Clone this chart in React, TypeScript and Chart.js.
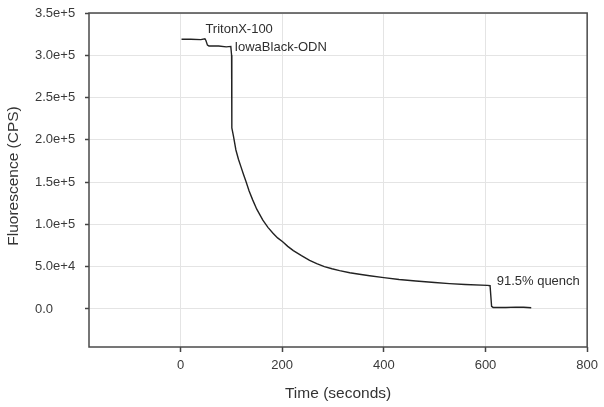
import React, { useEffect, useRef } from "react";
import { Chart, registerables } from "chart.js";

Chart.register(...registerables);

// Time (s) and fluorescence (CPS)
const timeSeconds = [
  2, 20, 40, 48, 50, 53, 56, 75, 90, 99, 100.5, 101, 104, 109, 114, 119, 124, 129, 135, 142, 150,
  162, 172, 182, 191, 201, 211, 222, 238, 254, 268, 283, 298, 313, 333, 352, 372, 400, 430, 463,
  500, 529, 560, 604, 609, 612, 615, 640, 660, 675, 690,
];
const fluorescenceCPS = [
  319000, 319000, 318500, 319500, 317500, 312000, 311000, 311000, 310000, 310500, 300000, 214000,
  205000, 188000, 177000, 168000, 159000, 150500, 139500, 129000, 118000, 105000, 96500, 89500,
  84000, 79500, 74000, 69000, 63000, 57500, 53500, 50000, 47500, 45300, 42800, 41000, 39300,
  37000, 34800, 33000, 31200, 30000, 29000, 27900, 27500, 3000, 1800, 1800, 2200, 2000, 1500,
];

const xTicks = [0, 200, 400, 600, 800];
const yTicks = [0, 50000, 100000, 150000, 200000, 250000, 300000, 350000];
const yTickLabels = ["0.0", "5.0e+4", "1.0e+5", "1.5e+5", "2.0e+5", "2.5e+5", "3.0e+5", "3.5e+5"];

const annotationTexts = ["TritonX-100", "IowaBlack-ODN", "91.5% quench"];
const annotationX = [49, 106, 622];
const annotationY = [331000, 309000, 32600];

const xTitle = "Time (seconds)";
const yTitle = "Fluorescence (CPS)";

const FONT = "Arial, 'Liberation Sans', sans-serif";

export default function App() {
  const ref = useRef<HTMLCanvasElement | null>(null);

  useEffect(() => {
    document.body.style.margin = "0";
    const canvas = ref.current;
    if (!canvas) return;

    const framePlugin = {
      id: "frameAndText",
      afterDraw(chart: any) {
        const { ctx, chartArea } = chart;
        const xs = chart.scales.x;
        const ys = chart.scales.y;
        ctx.save();
        ctx.strokeStyle = "#4a4a4a";
        ctx.lineWidth = 1.5;
        ctx.strokeRect(chartArea.left, chartArea.top, chartArea.right - chartArea.left, chartArea.bottom - chartArea.top);
        ctx.fillStyle = "#2e2e2e";
        ctx.font = `13px ${FONT}`;
        ctx.textAlign = "left";
        ctx.textBaseline = "middle";
        annotationTexts.forEach((t, i) => {
          ctx.fillText(t, xs.getPixelForValue(annotationX[i]), ys.getPixelForValue(annotationY[i]));
        });
        ctx.font = `15.5px ${FONT}`;
        ctx.fillStyle = "#333";
        ctx.translate(14, (chartArea.top + chartArea.bottom) / 2 - 4);
        ctx.rotate(-Math.PI / 2);
        ctx.textAlign = "center";
        ctx.fillText(yTitle, 0, 0);
        ctx.restore();
      },
    };

    const chart = new Chart(canvas, {
      type: "line",
      data: {
        datasets: [
          {
            data: timeSeconds.map((t, i) => ({ x: t, y: fluorescenceCPS[i] })),
            borderColor: "#222",
            borderWidth: 1.4,
            pointRadius: 0,
            tension: 0,
            fill: false,
          },
        ],
      },
      options: {
        responsive: false,
        animation: false,
        devicePixelRatio: 1,
        layout: { padding: { left: 35, top: 13, right: 16, bottom: 0 } },
        plugins: { legend: { display: false }, tooltip: { enabled: false } },
        scales: {
          x: {
            type: "linear",
            min: -180,
            max: 800,
            afterBuildTicks: (s: any) => {
              s.ticks = xTicks.map((v) => ({ value: v }));
            },
            afterFit: (s: any) => {
              s.height = 60;
            },
            grid: { color: "#e4e4e4", lineWidth: 1, tickColor: "#444", tickLength: 5, tickWidth: 1.5 },
            border: { display: false },
            ticks: {
              color: "#3a3a3a",
              font: { family: FONT, size: 13 },
              padding: 6,
              maxRotation: 0,
              callback: (v: any) => String(v),
            },
            title: {
              display: true,
              text: xTitle,
              color: "#333",
              font: { family: FONT, size: 15.5 },
              padding: { top: 0, bottom: 4 },
            },
          },
          y: {
            type: "linear",
            min: -45000,
            max: 350000,
            afterBuildTicks: (s: any) => {
              s.ticks = yTicks.map((v) => ({ value: v }));
            },
            afterFit: (s: any) => {
              s.width = 54;
            },
            grid: { color: "#e4e4e4", lineWidth: 1, tickColor: "#444", tickLength: 4, tickWidth: 1.5 },
            border: { display: false },
            ticks: {
              color: "#3a3a3a",
              font: { family: FONT, size: 13 },
              crossAlign: "far",
              callback: (v: any) => {
                const idx = yTicks.indexOf(Number(v));
                return idx >= 0 ? yTickLabels[idx] : "";
              },
            },
          },
        },
      },
      plugins: [framePlugin],
    } as any);

    return () => chart.destroy();
  }, []);

  return (
    <div style={{ width: 604, height: 407 }}>
      <canvas ref={ref} width={604} height={407} />
    </div>
  );
}
